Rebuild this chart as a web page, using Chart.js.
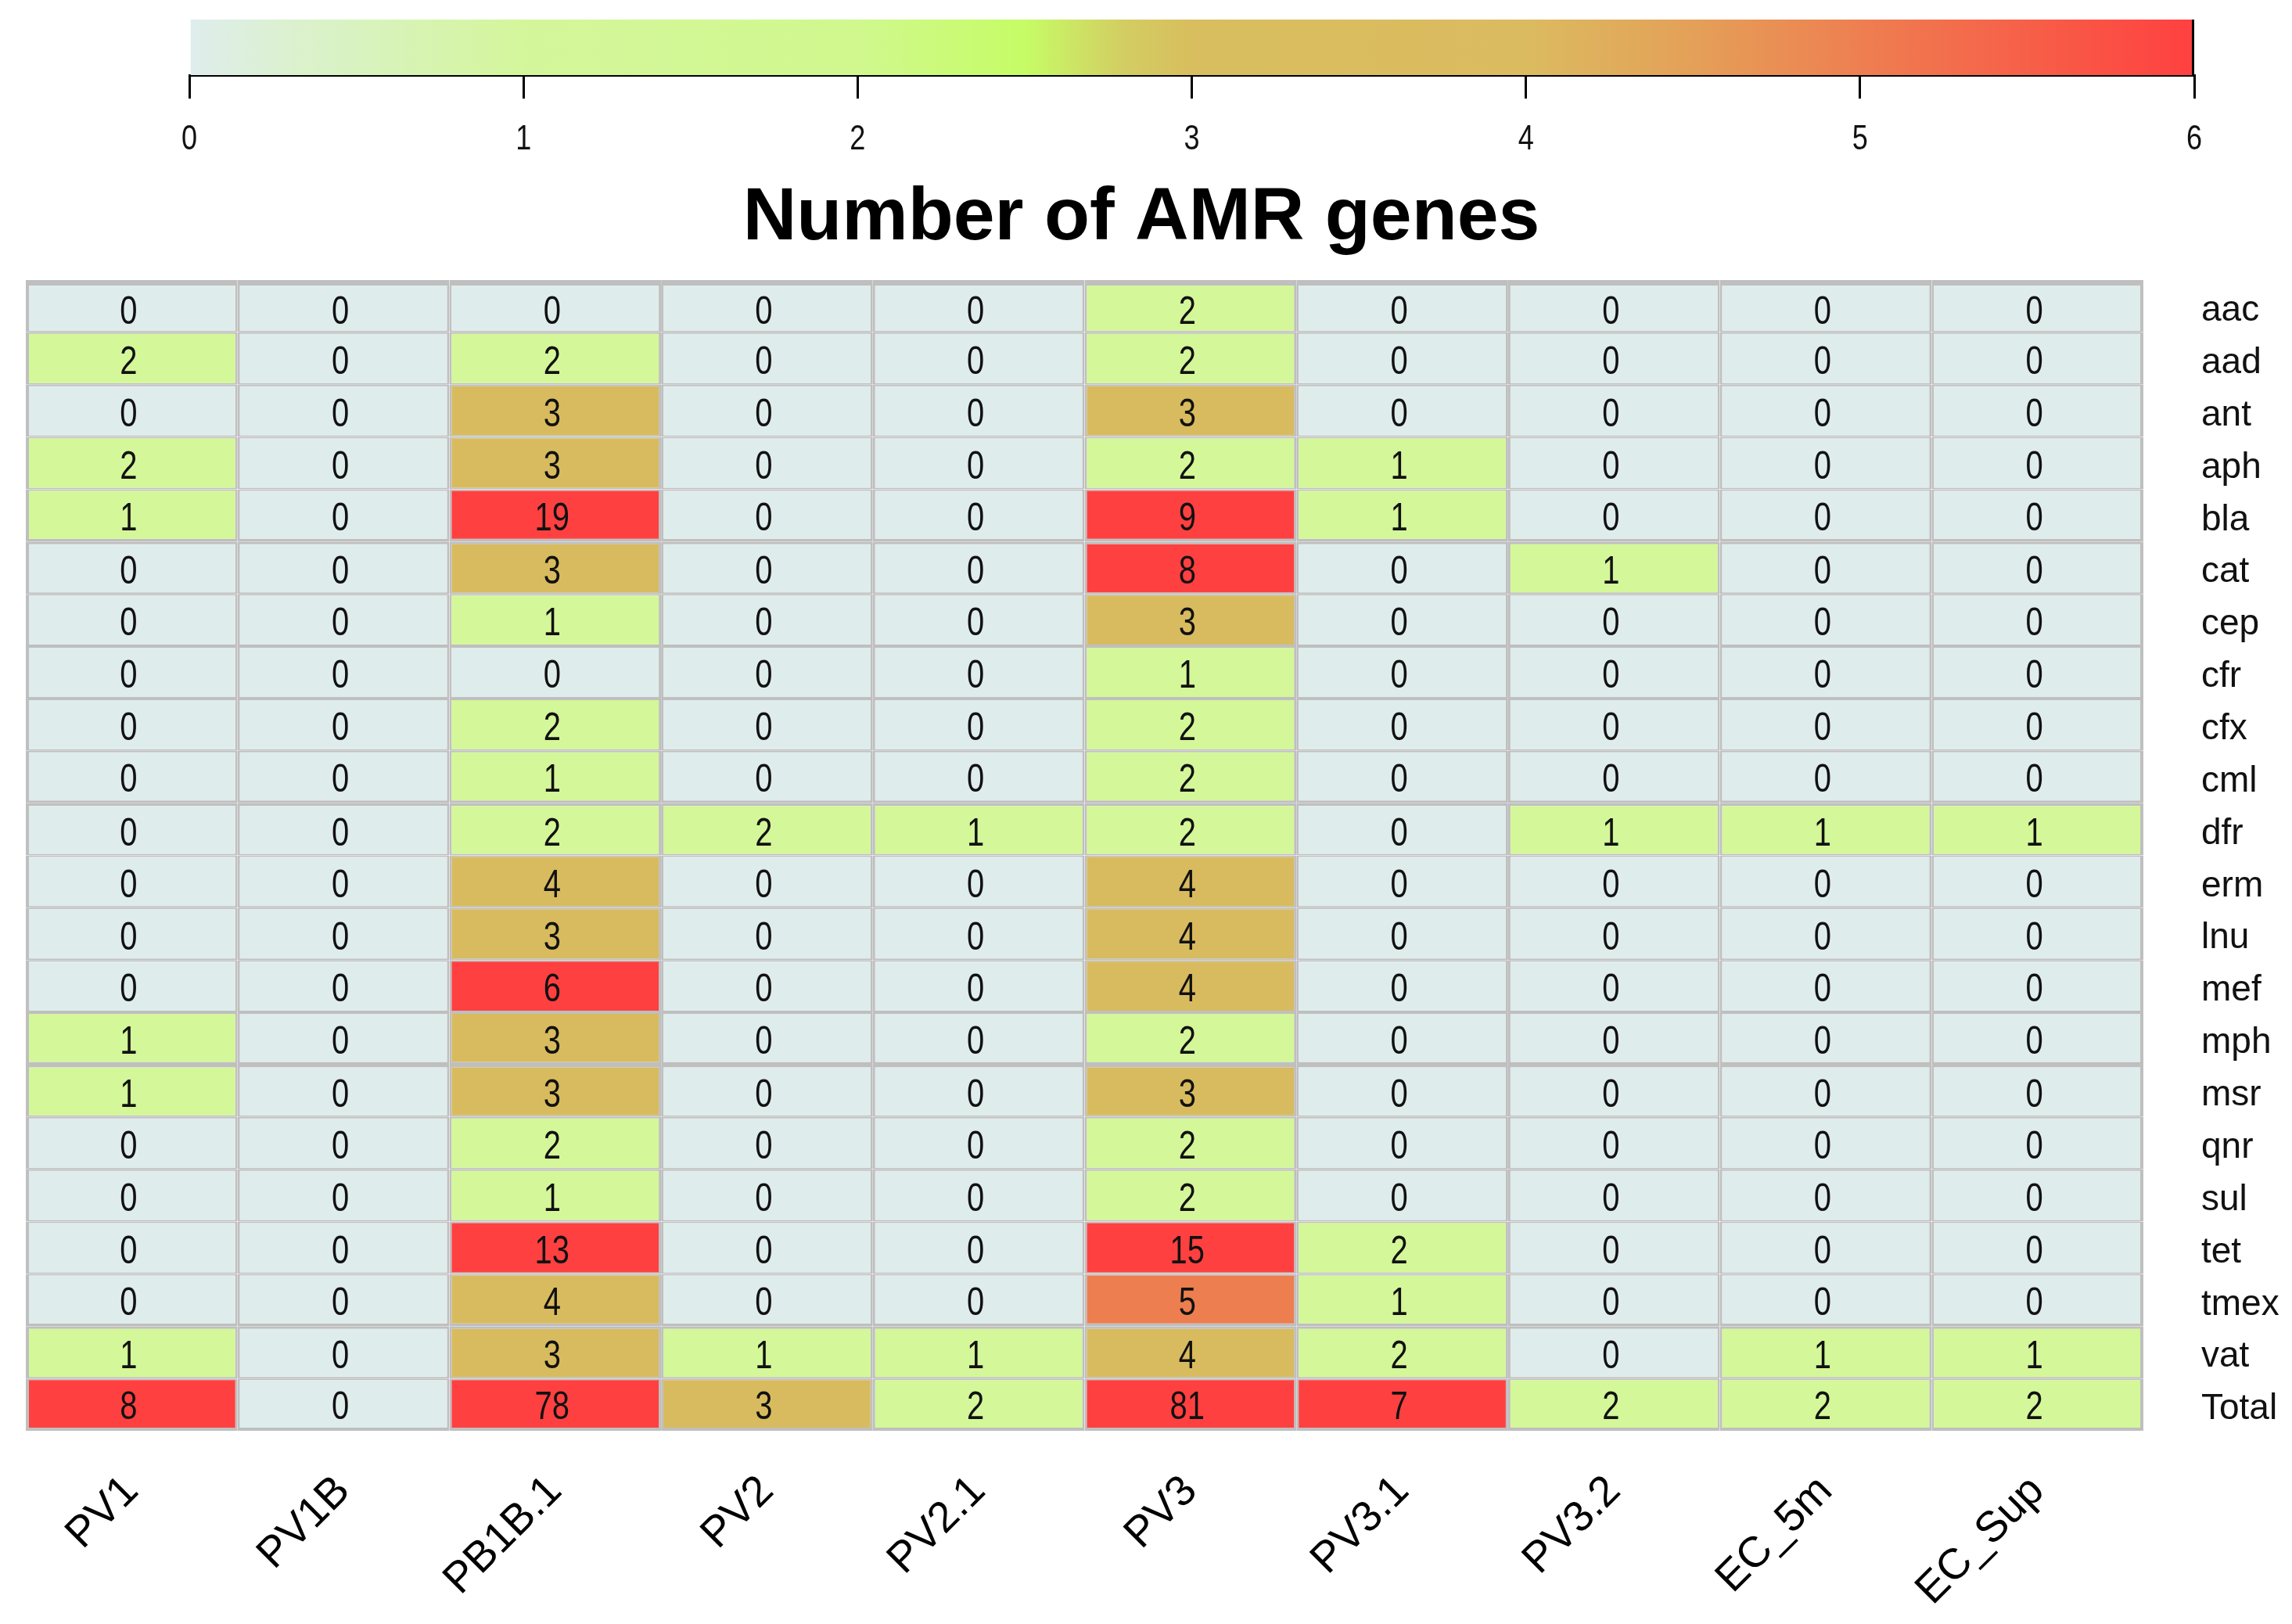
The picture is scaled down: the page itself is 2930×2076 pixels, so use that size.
<!DOCTYPE html>
<html>
<head>
<meta charset="utf-8">
<title>Number of AMR genes</title>
<script src="https://cdn.jsdelivr.net/npm/chart.js@4.4.1/dist/chart.umd.min.js"></script>
<style>
  html, body { margin: 0; padding: 0; background: #fff; }
  #wrap { position: relative; width: 2930px; height: 2076px; }
  canvas { position: absolute; left: 0; top: 0; }
</style>
</head>
<body>
<div id="wrap">
  <canvas id="heat" width="2930" height="2076"></canvas>
  <canvas id="legend" width="2930" height="210"></canvas>
</div>
<script>
const genes = ['aac', 'aad', 'ant', 'aph', 'bla', 'cat', 'cep', 'cfr', 'cfx', 'cml', 'dfr',
               'erm', 'lnu', 'mef', 'mph', 'msr', 'qnr', 'sul', 'tet', 'tmex', 'vat', 'Total'];
const samples = ['PV1', 'PV1B', 'PB1B.1', 'PV2', 'PV2.1', 'PV3', 'PV3.1', 'PV3.2', 'EC_5m', 'EC_Sup'];

// gene counts per sample, same order as genes
const pv1   = [0, 2, 0, 2, 1, 0, 0, 0, 0, 0, 0, 0, 0, 0, 1, 1, 0, 0, 0, 0, 1, 8];
const pv1b  = [0, 0, 0, 0, 0, 0, 0, 0, 0, 0, 0, 0, 0, 0, 0, 0, 0, 0, 0, 0, 0, 0];
const pb1b1 = [0, 2, 3, 3, 19, 3, 1, 0, 2, 1, 2, 4, 3, 6, 3, 3, 2, 1, 13, 4, 3, 78];
const pv2   = [0, 0, 0, 0, 0, 0, 0, 0, 0, 0, 2, 0, 0, 0, 0, 0, 0, 0, 0, 0, 1, 3];
const pv21  = [0, 0, 0, 0, 0, 0, 0, 0, 0, 0, 1, 0, 0, 0, 0, 0, 0, 0, 0, 0, 1, 2];
const pv3   = [2, 2, 3, 2, 9, 8, 3, 1, 2, 2, 2, 4, 4, 4, 2, 3, 2, 2, 15, 5, 4, 81];
const pv31  = [0, 0, 0, 1, 1, 0, 0, 0, 0, 0, 0, 0, 0, 0, 0, 0, 0, 0, 2, 1, 2, 7];
const pv32  = [0, 0, 0, 0, 0, 1, 0, 0, 0, 0, 1, 0, 0, 0, 0, 0, 0, 0, 0, 0, 0, 2];
const ec5m  = [0, 0, 0, 0, 0, 0, 0, 0, 0, 0, 1, 0, 0, 0, 0, 0, 0, 0, 0, 0, 1, 2];
const ecSup = [0, 0, 0, 0, 0, 0, 0, 0, 0, 0, 1, 0, 0, 0, 0, 0, 0, 0, 0, 0, 1, 2];
const columns = [pv1, pv1b, pb1b1, pv2, pv21, pv3, pv31, pv32, ec5m, ecSup];

// colour key
const keyTicks = [0, 1, 2, 3, 4, 5, 6];
const keyStops = [0, 0.3, 1, 2, 2.5, 2.8, 3, 4, 4.5, 5, 6];
const keyColors = ['#dfeded', '#dbf1cf', '#d4f69b', '#d0f88e', '#c6fc66', '#d3cd62',
                   '#d8be5e', '#dbbb60', '#e4a058', '#ee7f51', '#ff4040'];
const cellColors = ['#dfecec', '#d4f799', '#d4f799', '#d8bb5e', '#d8bb5e', '#ec7e50', '#ff4040'];

const sans = "'Liberation Sans', Arial, sans-serif";
const groupStarts = [5, 10, 15, 20];

function cellColor(v) {
  return cellColors[Math.min(v, 6)];
}

function cellBorder(r, c) {
  return {
    top: r === 0 ? 7 : (groupStarts.includes(r) ? 3.5 : 2),
    bottom: r === genes.length - 1 ? 4 : (groupStarts.includes(r + 1) ? 3.5 : 2),
    left: c === 0 ? 4 : 3,
    right: c === samples.length - 1 ? 4 : 3
  };
}

// squeezed text, the figure's numbers are tall and narrow
function narrowText(ctx, text, x, y, squeeze) {
  ctx.save();
  ctx.translate(x, y);
  ctx.scale(squeeze, 1);
  ctx.fillText(text, 0, 0);
  ctx.restore();
}

const cellText = {
  id: 'cellText',
  afterDatasetsDraw(chart) {
    const ctx = chart.ctx;
    ctx.save();
    ctx.font = '50px ' + sans;
    ctx.fillStyle = '#111';
    ctx.textAlign = 'center';
    ctx.textBaseline = 'middle';
    chart.data.datasets.forEach((ds, r) => {
      chart.getDatasetMeta(r).data.forEach((bar, c) => {
        const p = bar.getCenterPoint();
        const b = cellBorder(r, c);
        narrowText(ctx, String(columns[c][r]), p.x - 4, p.y + (b.top - b.bottom) / 2 + 6, 0.8);
      });
    });
    ctx.restore();
  }
};

// let the gene names draw past the axis box instead of being clipped
const widenRowAxis = {
  id: 'widenRowAxis',
  afterLayout(chart) {
    chart.scales.y.right = chart.width;
  }
};

const keyLabels = {
  id: 'keyLabels',
  afterDraw(chart) {
    const ctx = chart.ctx;
    const x = chart.scales.x;
    ctx.save();
    ctx.font = '44px ' + sans;
    ctx.fillStyle = '#111';
    ctx.textAlign = 'center';
    ctx.textBaseline = 'middle';
    keyTicks.forEach(v => narrowText(ctx, String(v), x.getPixelForValue(v), chart.chartArea.bottom + 83, 0.82));
    ctx.restore();
  }
};

new Chart(document.getElementById('heat'), {
  type: 'bar',
  data: {
    labels: samples,
    datasets: genes.map((g, r) => ({
      label: g,
      data: samples.map(() => [r, r + 1]),
      backgroundColor: ctx => cellColor(columns[ctx.dataIndex][r]),
      borderColor: '#bfbfbf',
      borderWidth: ctx => cellBorder(r, ctx.dataIndex),
      borderSkipped: false,
      inflateAmount: 0,
      grouped: false,
      barPercentage: 1,
      categoryPercentage: 1
    }))
  },
  options: {
    responsive: false,
    devicePixelRatio: 1,
    animation: false,
    layout: { padding: { top: 223, left: 33, right: 45, bottom: 0 } },
    plugins: {
      legend: { display: false },
      tooltip: { enabled: false },
      title: {
        display: true,
        text: 'Number of AMR genes',
        color: '#000',
        font: { family: sans, size: 95, weight: 'bold' },
        padding: { top: 0, bottom: 21 }
      }
    },
    scales: {
      x: {
        type: 'category',
        position: 'bottom',
        grid: { display: false },
        border: { display: false },
        ticks: {
          color: '#000',
          font: { family: sans, size: 55 },
          minRotation: 45,
          maxRotation: 45,
          autoSkip: false,
          padding: 37,
          labelOffset: 0
        },
        afterFit: s => { s.height = 247; }
      },
      y: {
        type: 'linear',
        position: 'right',
        min: 0,
        max: genes.length,
        reverse: true,
        grid: { display: false },
        border: { display: false },
        afterBuildTicks: s => { s.ticks = genes.map((g, i) => ({ value: i + 0.5 })); },
        ticks: {
          color: '#111',
          font: { family: sans, size: 46 },
          autoSkip: false,
          padding: 66,
          labelOffset: 6,
          callback: (v, i) => genes[i]
        },
        afterFit: s => { s.width = 145; }
      }
    }
  },
  plugins: [cellText, widenRowAxis]
});

new Chart(document.getElementById('legend'), {
  type: 'bar',
  data: {
    labels: [''],
    datasets: [{
      data: [[keyTicks[0], keyTicks[keyTicks.length - 1]]],
      backgroundColor: ctx => {
        const chart = ctx.chart;
        if (!chart.chartArea) return keyColors[0];
        const x = chart.scales.x;
        const lo = keyTicks[0], hi = keyTicks[keyTicks.length - 1];
        const g = chart.ctx.createLinearGradient(x.getPixelForValue(lo), 0, x.getPixelForValue(hi), 0);
        keyStops.forEach((v, i) => g.addColorStop((v - lo) / (hi - lo), keyColors[i]));
        return g;
      },
      borderColor: '#000',
      borderWidth: { top: 0, left: 0, bottom: 0, right: 3 },
      borderSkipped: false,
      inflateAmount: 0,
      barPercentage: 1,
      categoryPercentage: 1
    }]
  },
  options: {
    indexAxis: 'y',
    responsive: false,
    devicePixelRatio: 1,
    animation: false,
    layout: { padding: { top: 25, left: 242, right: 125, bottom: 0 } },
    plugins: { legend: { display: false }, tooltip: { enabled: false } },
    scales: {
      x: {
        type: 'linear',
        position: 'bottom',
        min: keyTicks[0],
        max: keyTicks[keyTicks.length - 1],
        afterBuildTicks: s => { s.ticks = keyTicks.map(v => ({ value: v })); },
        grid: { display: true, drawOnChartArea: false, drawTicks: true, tickLength: 30, color: '#000', lineWidth: 3 },
        border: { display: true, color: '#000', width: 3 },
        ticks: { display: false },
        afterFit: s => { s.height = 114; }
      },
      y: { display: false }
    }
  },
  plugins: [keyLabels]
});
</script>
</body>
</html>
